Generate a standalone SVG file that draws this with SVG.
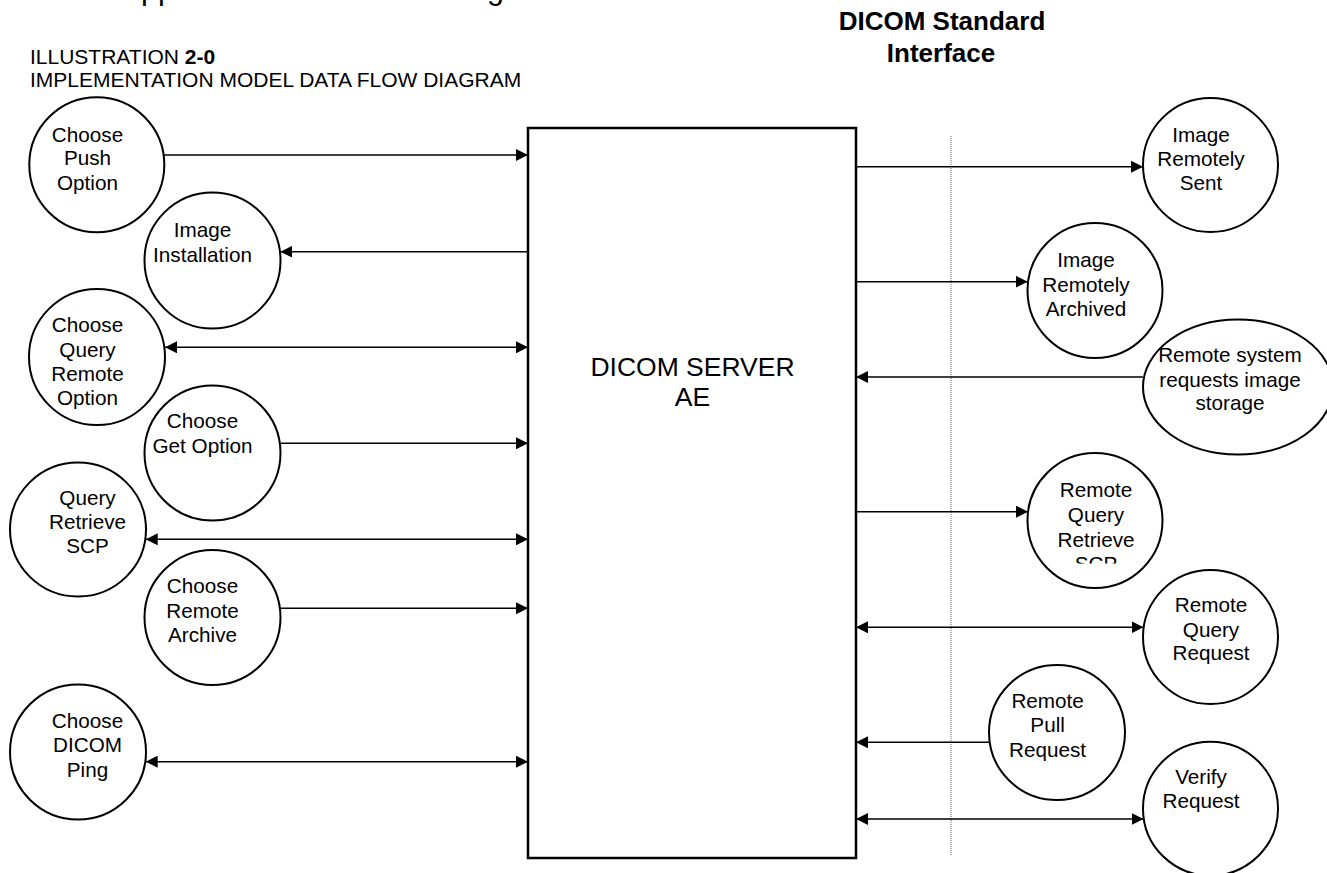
<svg xmlns="http://www.w3.org/2000/svg" width="1327" height="873" viewBox="0 0 1327 873">
<style>
  text { font-family: "Liberation Sans", Arial, sans-serif; fill: #000; }
  .lbl { font-size: 20.7px; text-anchor: middle; }
  .node { fill: #fff; stroke: #000; stroke-width: 2; }
  .box { fill: #fff; stroke: #000; stroke-width: 2.5; }
  .conn { stroke: #000; stroke-width: 1.6; fill: none; }
  .end { marker-end: url(#ah); }
  .both { marker-start: url(#ah); marker-end: url(#ah); }
  .hdr { font-size: 21px; }
  .std { font-size: 26px; font-weight: bold; text-anchor: middle; }
</style>
<defs>
  <marker id="ah" markerUnits="userSpaceOnUse" markerWidth="12" markerHeight="12" viewBox="0 0 12 12" refX="12" refY="6" orient="auto-start-reverse">
    <path d="M0,0 L12,6 L0,12 z" fill="#000"/>
  </marker>
  <clipPath id="clipScp"><rect x="1020" y="440" width="160" height="123.5"/></clipPath>
</defs>
<rect x="0" y="0" width="1327" height="873" fill="#fff"/>

<g id="headings">
  <text x="120.6" y="-1.5" style="font-size:30.5px; word-spacing:5.7px">Application Data Flow Diagram</text>
  <text class="hdr" x="30" y="64">ILLUSTRATION <tspan font-weight="bold">2-0</tspan></text>
  <text class="hdr" x="30" y="87.3">IMPLEMENTATION MODEL DATA FLOW DIAGRAM</text>
  <text class="std" x="942" y="30">DICOM Standard</text>
  <text class="std" x="941" y="61.7">Interface</text>
</g>

<g id="interface-boundary">
  <line x1="951" y1="136" x2="951" y2="856" stroke="#666" stroke-width="1" stroke-dasharray="1 1"/>
</g>

<g id="dicom-server-ae">
  <rect class="box" x="528" y="128" width="328" height="730"/>
  <text x="692.5" y="376" style="font-size:26.5px; text-anchor:middle">DICOM SERVER</text>
  <text x="692.5" y="406" style="font-size:26.5px; text-anchor:middle">AE</text>
</g>

<g id="choose-push-option">
  <ellipse class="node" cx="96.8" cy="164.8" rx="67.5" ry="67.5"/>
  <text class="lbl" x="87.5" y="141.7">Choose</text>
  <text class="lbl" x="87.5" y="165">Push</text>
  <text class="lbl" x="87.5" y="190">Option</text>
</g>

<g id="image-installation">
  <ellipse class="node" cx="212.5" cy="260.5" rx="68" ry="68"/>
  <text class="lbl" x="202.5" y="236.7">Image</text>
  <text class="lbl" x="202.5" y="261.7">Installation</text>
</g>

<g id="choose-query-remote-option">
  <ellipse class="node" cx="97" cy="357" rx="68" ry="68"/>
  <text class="lbl" x="87.5" y="331.7">Choose</text>
  <text class="lbl" x="87.5" y="356.7">Query</text>
  <text class="lbl" x="87.5" y="381">Remote</text>
  <text class="lbl" x="87.5" y="405">Option</text>
</g>

<g id="choose-get-option">
  <ellipse class="node" cx="212.5" cy="453" rx="68" ry="67.5"/>
  <text class="lbl" x="202.5" y="428.3">Choose</text>
  <text class="lbl" x="202.5" y="453.3">Get Option</text>
</g>

<g id="query-retrieve-scp">
  <ellipse class="node" cx="78" cy="529.5" rx="68" ry="67"/>
  <text class="lbl" x="87.5" y="505">Query</text>
  <text class="lbl" x="87.5" y="529.3">Retrieve</text>
  <text class="lbl" x="87.5" y="553.3">SCP</text>
</g>

<g id="choose-remote-archive">
  <ellipse class="node" cx="212.5" cy="617.5" rx="68" ry="67.5"/>
  <text class="lbl" x="202.5" y="592.7">Choose</text>
  <text class="lbl" x="202.5" y="618.3">Remote</text>
  <text class="lbl" x="202.5" y="642.3">Archive</text>
</g>

<g id="choose-dicom-ping">
  <ellipse class="node" cx="78" cy="752" rx="68" ry="67.5"/>
  <text class="lbl" x="87.5" y="728.3">Choose</text>
  <text class="lbl" x="87.5" y="751.7">DICOM</text>
  <text class="lbl" x="87.5" y="776.7">Ping</text>
</g>

<g id="image-remotely-sent">
  <ellipse class="node" cx="1210.5" cy="165" rx="67.5" ry="67"/>
  <text class="lbl" x="1201" y="141.7">Image</text>
  <text class="lbl" x="1201" y="165.7">Remotely</text>
  <text class="lbl" x="1201" y="190">Sent</text>
</g>

<g id="image-remotely-archived">
  <ellipse class="node" cx="1095" cy="290.5" rx="67.5" ry="67.5"/>
  <text class="lbl" x="1086" y="266.7">Image</text>
  <text class="lbl" x="1086" y="291.7">Remotely</text>
  <text class="lbl" x="1086" y="316">Archived</text>
</g>

<g id="remote-system-requests-image-storage">
  <ellipse class="node" cx="1238" cy="387" rx="95" ry="67.5"/>
  <text class="lbl" x="1230" y="361.7">Remote system</text>
  <text class="lbl" x="1230" y="386.7">requests image</text>
  <text class="lbl" x="1230" y="410">storage</text>
</g>

<g id="remote-query-retrieve-scp">
  <ellipse class="node" cx="1095" cy="520.5" rx="67.5" ry="67.5"/>
  <text class="lbl" x="1096" y="497">Remote</text>
  <text class="lbl" x="1096" y="521.7">Query</text>
  <text class="lbl" x="1096" y="546.7">Retrieve</text>
  <text class="lbl" x="1096" y="571" clip-path="url(#clipScp)">SCP</text>
</g>

<g id="remote-query-request">
  <ellipse class="node" cx="1210.5" cy="637" rx="67.5" ry="67"/>
  <text class="lbl" x="1211" y="612.3">Remote</text>
  <text class="lbl" x="1211" y="636.7">Query</text>
  <text class="lbl" x="1211" y="660">Request</text>
</g>

<g id="remote-pull-request">
  <ellipse class="node" cx="1057" cy="732.5" rx="68" ry="67.5"/>
  <text class="lbl" x="1047.6" y="708.3">Remote</text>
  <text class="lbl" x="1047.6" y="731.7">Pull</text>
  <text class="lbl" x="1047.6" y="756.7">Request</text>
</g>

<g id="verify-request">
  <ellipse class="node" cx="1210.5" cy="808.7" rx="67.5" ry="67"/>
  <text class="lbl" x="1201" y="784">Verify</text>
  <text class="lbl" x="1201" y="808.3">Request</text>
</g>

<g id="connectors">
  <line class="conn end" x1="164" y1="155" x2="528" y2="155"/>
  <line class="conn end" x1="528" y1="251.7" x2="280.4" y2="251.7"/>
  <line class="conn both" x1="165" y1="347.3" x2="528" y2="347.3"/>
  <line class="conn end" x1="280.4" y1="443.3" x2="528" y2="443.3"/>
  <line class="conn both" x1="145.7" y1="539.3" x2="528" y2="539.3"/>
  <line class="conn end" x1="280.4" y1="608.3" x2="528" y2="608.3"/>
  <line class="conn both" x1="145.7" y1="761.7" x2="528" y2="761.7"/>
  <line class="conn end" x1="856" y1="166.7" x2="1143" y2="166.7"/>
  <line class="conn end" x1="856" y1="281.7" x2="1027.7" y2="281.7"/>
  <line class="conn end" x1="1143" y1="377" x2="856" y2="377"/>
  <line class="conn end" x1="856" y1="511.7" x2="1028" y2="511.7"/>
  <line class="conn both" x1="856" y1="627.3" x2="1143.5" y2="627.3"/>
  <line class="conn end" x1="989.5" y1="742.3" x2="856" y2="742.3"/>
  <line class="conn both" x1="856" y1="819" x2="1143.5" y2="819"/>
</g>
</svg>
